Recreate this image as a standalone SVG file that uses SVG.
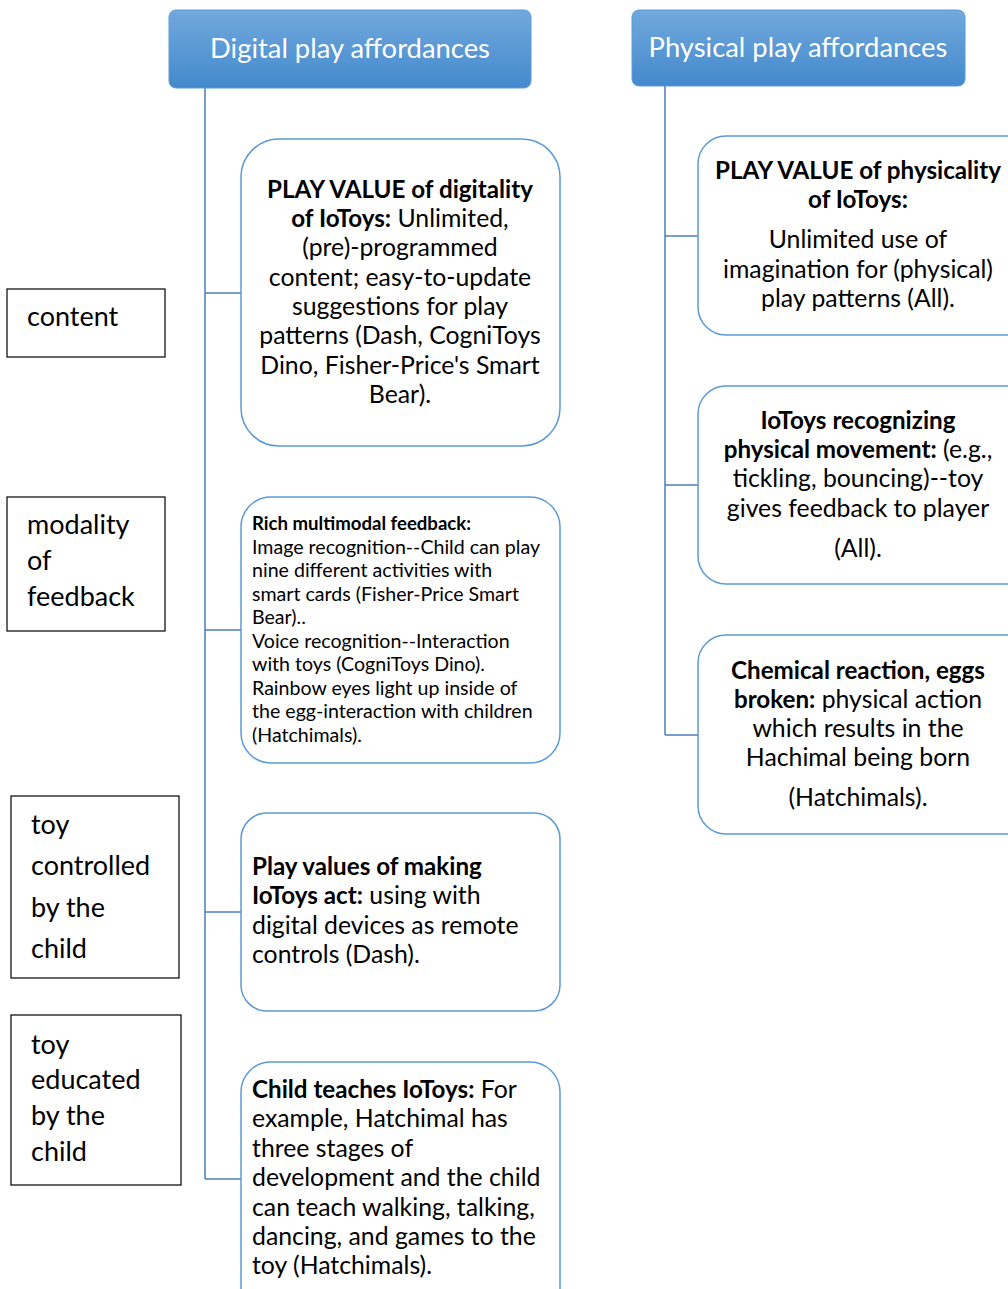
<svg xmlns="http://www.w3.org/2000/svg" width="1008" height="1289" viewBox="0 0 1008 1289">
<defs>
<linearGradient id="hg" x1="0" y1="0" x2="0" y2="1">
<stop offset="0" stop-color="#72a9dd"/>
<stop offset="1" stop-color="#4389cc"/>
</linearGradient>
<style>
.hdr{fill:url(#hg);stroke:#5b9bd5;stroke-width:1}
.ht{fill:#fff;font-family:Lato,"Open Sans",sans-serif;font-size:27.4px;text-anchor:middle}
.box{fill:#fff;stroke:#5b9bd5;stroke-width:1.5}
.lab{fill:#fff;stroke:#000;stroke-width:1.2}
.t{font-family:Lato,"Open Sans",sans-serif;font-size:24.8px;fill:#000}
.s{font-family:Lato,"Open Sans",sans-serif;font-size:19.6px;fill:#000}
.l{font-family:Lato,"Open Sans",sans-serif;font-size:27px;fill:#000}
.c{text-anchor:middle}
.b{font-weight:bold}
.t .b,.t.b{font-size:24.2px}
.con{stroke:#4a7ebb;stroke-width:1.5;fill:none}
</style>
</defs>
<rect width="1008" height="1289" fill="#fff"/>

<g id="connectors">
<path class="con" d="M205 88V1179M205 293H241M205 630H241M205 912H241M205 1179H241"/>
<path class="con" d="M665 86V735M665 236H698M665 485H698M665 735H698"/>
</g>

<g id="hdr-digital">
<rect class="hdr" x="169" y="10" width="362" height="78" rx="7"/>
<text class="ht" x="350" y="58">Digital play affordances</text>
</g>
<g id="hdr-physical">
<rect class="hdr" x="632" y="10" width="333" height="76" rx="7"/>
<text class="ht" x="798" y="57">Physical play affordances</text>
</g>

<g id="d1">
<rect class="box" x="241" y="139" width="319" height="307" rx="38"/>
<text class="t c" x="400" y="198"><tspan class="b">PLAY VALUE of digitality</tspan></text>
<text class="t c" x="400" y="227"><tspan class="b">of IoToys:</tspan> Unlimited,</text>
<text class="t c" x="400" y="256">(pre)-programmed</text>
<text class="t c" x="400" y="286">content; easy-to-update</text>
<text class="t c" x="400" y="315">suggestions for play</text>
<text class="t c" x="400" y="344">patterns (Dash, CogniToys</text>
<text class="t c" x="400" y="374">Dino, Fisher-Price's Smart</text>
<text class="t c" x="400" y="403">Bear).</text>
</g>

<g id="d2">
<rect class="box" x="241" y="497" width="319" height="266" rx="30"/>
<text class="s b" x="252" y="530" style="font-size:18.6px">Rich multimodal feedback:</text>
<text class="s" x="252" y="554">Image recognition--Child can play</text>
<text class="s" x="252" y="577">nine different activities with</text>
<text class="s" x="252" y="601">smart cards (Fisher-Price Smart</text>
<text class="s" x="252" y="624">Bear)..</text>
<text class="s" x="252" y="648">Voice recognition--Interaction</text>
<text class="s" x="252" y="671">with toys (CogniToys Dino).</text>
<text class="s" x="252" y="695">Rainbow eyes light up inside of</text>
<text class="s" x="252" y="718">the egg-interaction with children</text>
<text class="s" x="252" y="742">(Hatchimals).</text>
</g>

<g id="d3">
<rect class="box" x="241" y="813" width="319" height="198" rx="26"/>
<text class="t" x="252" y="875"><tspan class="b">Play values of making</tspan></text>
<text class="t" x="252" y="904"><tspan class="b">IoToys act:</tspan> using with</text>
<text class="t" x="252" y="934">digital devices as remote</text>
<text class="t" x="252" y="963">controls (Dash).</text>
</g>

<g id="d4">
<rect class="box" x="241" y="1062" width="319" height="260" rx="30"/>
<text class="t" x="252" y="1098"><tspan class="b">Child teaches IoToys:</tspan> For</text>
<text class="t" x="252" y="1127">example, Hatchimal has</text>
<text class="t" x="252" y="1157">three stages of</text>
<text class="t" x="252" y="1186">development and the child</text>
<text class="t" x="252" y="1216">can teach walking, talking,</text>
<text class="t" x="252" y="1245">dancing, and games to the</text>
<text class="t" x="252" y="1274">toy (Hatchimals).</text>
</g>

<g id="p1">
<rect class="box" x="698" y="136" width="340" height="199" rx="28"/>
<text class="t c b" x="858" y="179">PLAY VALUE of physicality</text>
<text class="t c b" x="858" y="208">of IoToys:</text>
<text class="t c" x="858" y="248">Unlimited use of</text>
<text class="t c" x="858" y="278">imagination for (physical)</text>
<text class="t c" x="858" y="307">play patterns (All).</text>
</g>

<g id="p2">
<rect class="box" x="698" y="386" width="340" height="198" rx="28"/>
<text class="t c b" x="858" y="429">IoToys recognizing</text>
<text class="t c" x="858" y="458"><tspan class="b">physical movement:</tspan> (e.g.,</text>
<text class="t c" x="858" y="487">tickling, bouncing)--toy</text>
<text class="t c" x="858" y="517">gives feedback to player</text>
<text class="t c" x="858" y="557">(All).</text>
</g>

<g id="p3">
<rect class="box" x="698" y="635" width="340" height="199" rx="28"/>
<text class="t c b" x="858" y="679">Chemical reaction, eggs</text>
<text class="t c" x="858" y="708"><tspan class="b">broken:</tspan> physical action</text>
<text class="t c" x="858" y="737">which results in the</text>
<text class="t c" x="858" y="766">Hachimal being born</text>
<text class="t c" x="858" y="806">(Hatchimals).</text>
</g>

<g id="l1">
<rect class="lab" x="7" y="289" width="158" height="68"/>
<text class="l" x="27" y="326">content</text>
</g>
<g id="l2">
<rect class="lab" x="7" y="497" width="158" height="134"/>
<text class="l" x="27" y="534">modality</text>
<text class="l" x="27" y="570">of</text>
<text class="l" x="27" y="606">feedback</text>
</g>
<g id="l3">
<rect class="lab" x="11" y="796" width="168" height="182"/>
<text class="l" x="31" y="834">toy</text>
<text class="l" x="31" y="875">controlled</text>
<text class="l" x="31" y="917">by the</text>
<text class="l" x="31" y="958">child</text>
</g>
<g id="l4">
<rect class="lab" x="11" y="1015" width="170" height="170"/>
<text class="l" x="31" y="1054">toy</text>
<text class="l" x="31" y="1089">educated</text>
<text class="l" x="31" y="1125">by the</text>
<text class="l" x="31" y="1161">child</text>
</g>
</svg>
